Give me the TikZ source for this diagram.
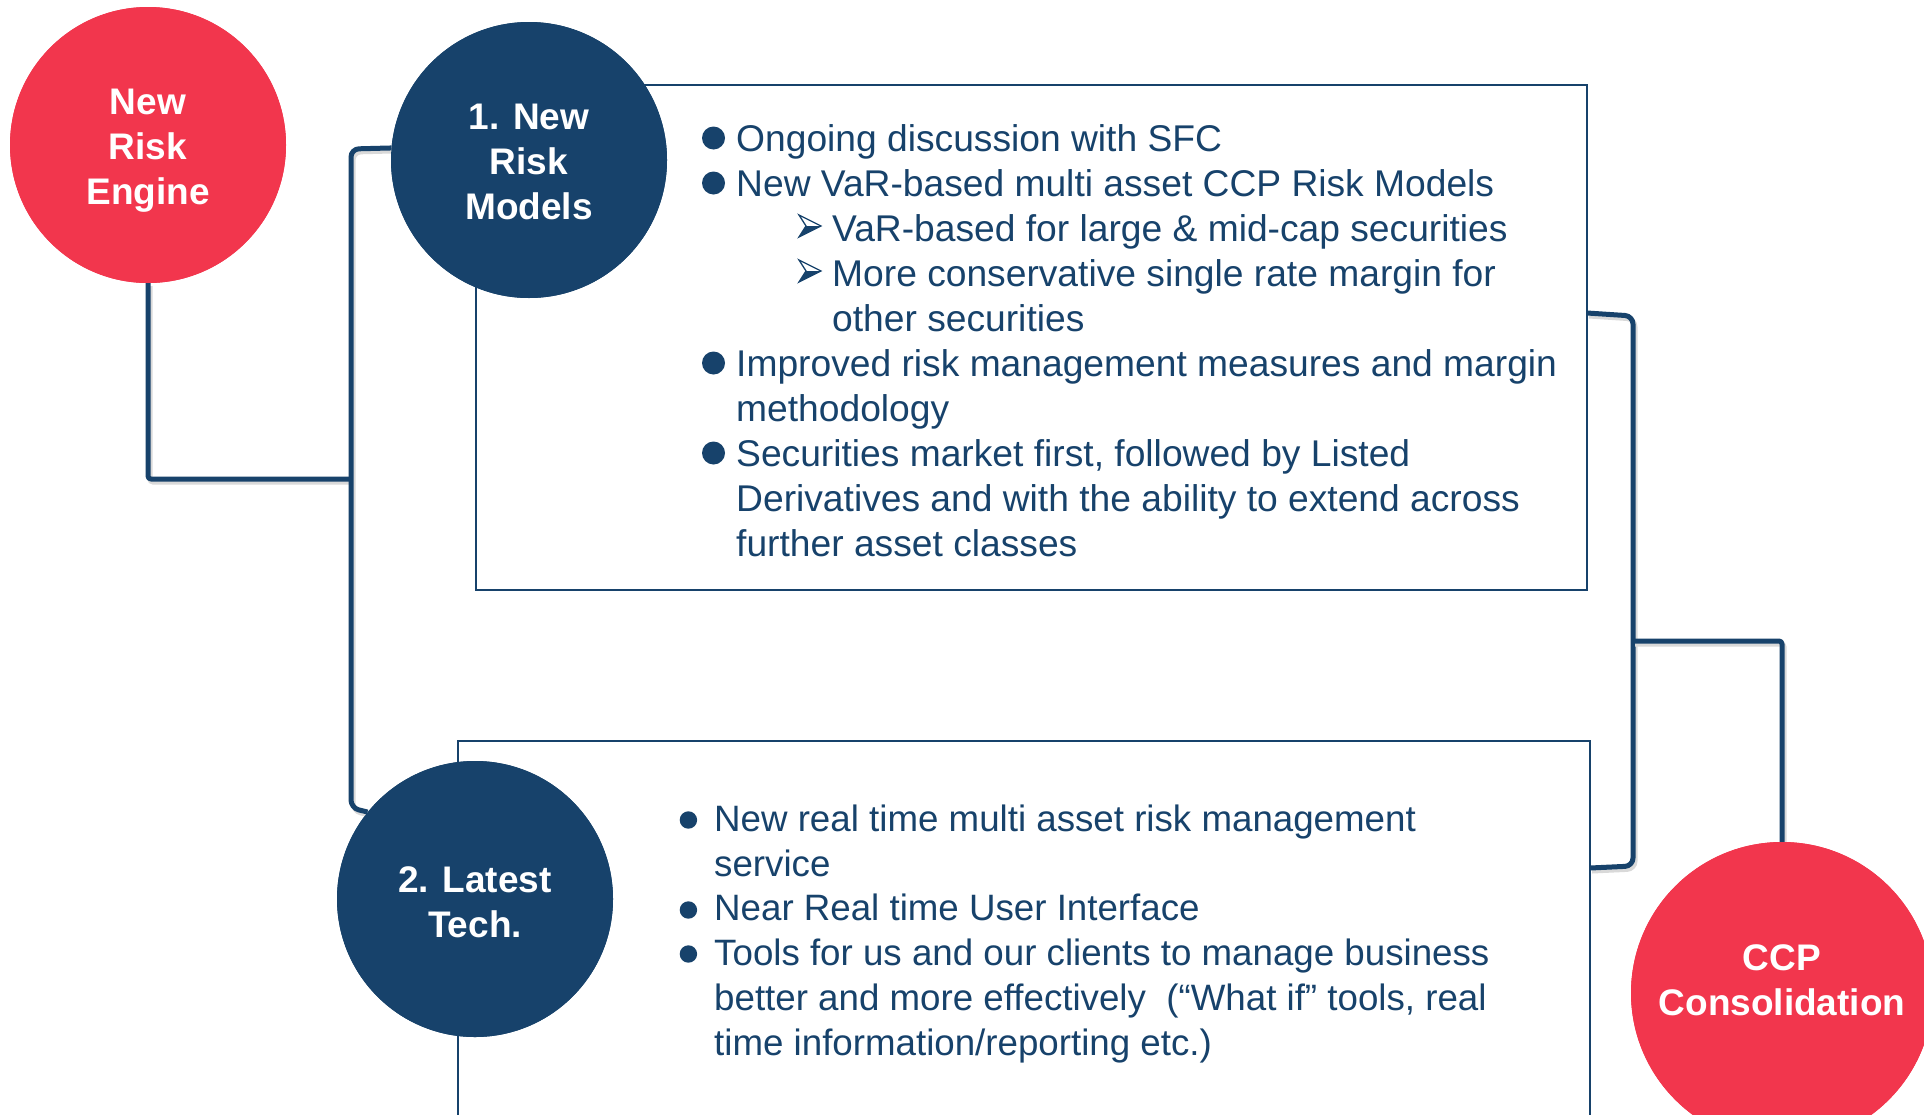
\documentclass[tikz,border=0pt]{standalone}
\usepackage{fontspec}
\setmainfont{Liberation Sans}
\definecolor{navy}{HTML}{17426B}
\definecolor{rred}{HTML}{F2364D}
\begin{document}
\begin{tikzpicture}[x=1pt,y=-1pt,
  circ/.style={circle, inner sep=0pt, draw=none},
  lbl/.style={text=white, font=\fontsize{37}{45}\selectfont\bfseries, align=center, inner sep=0pt},
  box/.style={draw=navy, line width=2.5pt, inner sep=0pt, fill=white},
  conn/.style={draw=navy, line width=5pt, line join=round,
     preaction={draw=black!15, line width=5pt, transform canvas={shift={(2pt,-3pt)}}}},
  body/.style={text=navy, font=\fontsize{37.2}{45}\selectfont, align=left, inner sep=0pt, anchor=north west},
]
\useasboundingbox (0,0) rectangle (1924,1114);
\fill[white] (0,0) rectangle (1924,1114);

% boxes
\node[box, minimum width=1111pt, minimum height=505pt] (b1) at (1031.5,337.5) {};
\node[box, minimum width=1132pt, minimum height=420pt] (b2) at (1024,951) {};

% circles
\node[circ, fill=rred, minimum size=276pt] (eng) at (148,145) {};
\node[circ, fill=navy, minimum size=276pt] (m1) at (529,160) {};
\node[circ, fill=navy, minimum size=276pt] (m2) at (475,899) {};
\node[circ, fill=rred, minimum size=302pt] (ccp) at (1782,993) {};

% named corner points
\coordinate (jl) at (351,479);
\coordinate (r1) at (1587,313);
\coordinate (r2) at (1590,868);
\coordinate (jr) at (1633,641);

% connectors
\draw[conn, rounded corners=3pt] (eng.south) |- (jl);
\draw[conn, rounded corners=8pt] (m1.175) -- (351,149) -- (351,808) -- (m2.141);
\draw[conn, rounded corners=8pt] (r1) -- (1633,316) -- (1633,866) -- (r2);
\draw[conn, rounded corners=3pt] (jr) -| (ccp.north);

% circles again on top of connectors
\fill[rred] (eng) circle (138);
\fill[navy] (m1) circle (138);
\fill[navy] (m2) circle (138);
\fill[rred] (ccp) circle (151);

% circle labels
\node[lbl] (engl) at (148,151) {New\\Risk\\Engine};
\node[lbl] (m1l) at (529,162.3) {1. New\\Risk\\Models};
\node[lbl] (m2l) at (475,902.2) {2. Latest\\Tech.};
\node[lbl] (ccpl) at (1782,979.8) {CCP\\Consolidation};

% box 1 text
\node[body] (t1) at (736,124.5) {Ongoing discussion with SFC\\
New VaR-based multi asset CCP Risk Models\\
\hspace*{96pt}VaR-based for large \& mid-cap securities\\
\hspace*{96pt}More conservative single rate margin for\\
\hspace*{96pt}other securities\\
Improved risk management measures and margin\\
methodology\\
Securities market first, followed by Listed\\
Derivatives and with the ability to extend across\\
further asset classes};

% box 1 bullets
\foreach \yy in {138,183,363,453} \fill[navy] (713.5,\yy) circle (11.5);
\foreach \bb in {241,286} {
  \fill[navy] (806,\bb-15) -- (821,\bb-15) -- (799,\bb-4) -- cycle;
  \draw[navy, line width=1.3pt, line join=miter] (799,\bb-26) -- (821,\bb-15) -- (799,\bb-4) -- (806,\bb-15) -- cycle;
}

% box 2 text
\node[body, font=\fontsize{36.7}{44.8}\selectfont] (t2) at (714,804.5) {New real time multi asset risk management\\
service\\
Near Real time User Interface\\
Tools for us and our clients to manage business\\
better and more effectively\ \ (“What if” tools, real\\
time information/reporting etc.)};

% box 2 bullets
\foreach \yy in {820,910,954} \fill[navy] (688.4,\yy) circle (8.7);
\end{tikzpicture}
\end{document}
